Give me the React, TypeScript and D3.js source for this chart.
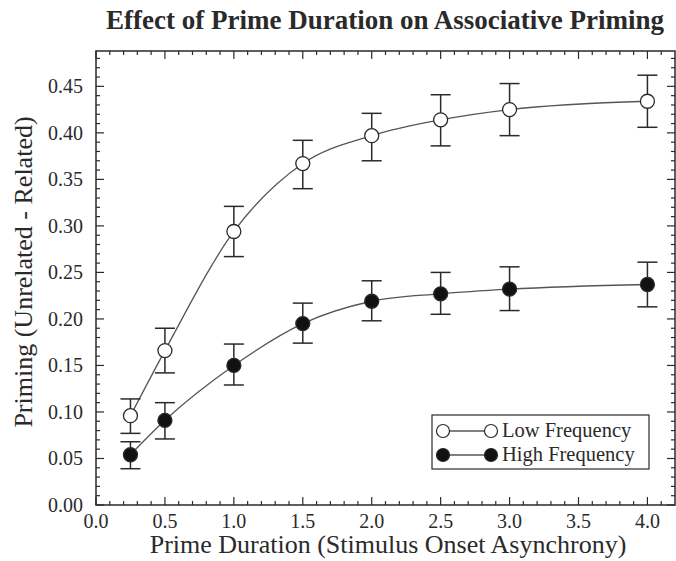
import { useEffect, useRef } from "react";
import * as d3 from "d3";

const W = 676;
const H = 561;
const M = { top: 51, right: 1, bottom: 56, left: 96 };

const DURATIONS = [0.25, 0.5, 1.0, 1.5, 2.0, 2.5, 3.0, 4.0];

const LOW_MEAN = [0.096, 0.166, 0.294, 0.367, 0.397, 0.414, 0.425, 0.434];
const LOW_HI = [0.114, 0.19, 0.321, 0.392, 0.421, 0.441, 0.453, 0.462];
const LOW_LO = [0.077, 0.142, 0.267, 0.34, 0.37, 0.386, 0.397, 0.406];

const HIGH_MEAN = [0.054, 0.091, 0.15, 0.195, 0.219, 0.227, 0.232, 0.237];
const HIGH_HI = [0.068, 0.11, 0.173, 0.217, 0.241, 0.25, 0.256, 0.261];
const HIGH_LO = [0.039, 0.071, 0.129, 0.174, 0.198, 0.205, 0.209, 0.213];

const X_MAJOR = [0, 0.5, 1, 1.5, 2, 2.5, 3, 3.5, 4];
const Y_MAJOR = [0, 0.05, 0.1, 0.15, 0.2, 0.25, 0.3, 0.35, 0.4, 0.45];

const SERIES = [
  { name: "Low Frequency", mean: LOW_MEAN, hi: LOW_HI, lo: LOW_LO, fill: "#fff" },
  { name: "High Frequency", mean: HIGH_MEAN, hi: HIGH_HI, lo: HIGH_LO, fill: "#111" },
];

const FONT = "'Liberation Serif', 'DejaVu Serif', serif";
const INK = "#2a2a2a";

export default function App() {
  const ref = useRef<SVGSVGElement>(null);

  useEffect(() => {
    document.body.style.margin = "0";
    const svg = d3.select(ref.current);
    svg.selectAll("*").remove();

    const x = d3.scaleLinear().domain([0, 4.2]).range([M.left, W - M.right]);
    const y = d3.scaleLinear().domain([0, 0.488]).range([H - M.bottom, M.top]);
    const [x0, x1] = x.range();
    const [y0, y1] = y.range();

    // title
    svg.append("text")
      .attr("x", 385).attr("y", 29)
      .attr("text-anchor", "middle")
      .attr("font-family", FONT).attr("font-weight", "bold")
      .attr("font-size", 27).attr("fill", INK)
      .text("Effect of Prime Duration on Associative Priming");

    // frame
    svg.append("rect")
      .attr("x", x0).attr("y", y1)
      .attr("width", x1 - x0).attr("height", y0 - y1)
      .attr("fill", "none").attr("stroke", INK).attr("stroke-width", 1.5);

    const ticks = svg.append("g").attr("stroke", INK).attr("stroke-width", 1.2);

    // x ticks (inward, top and bottom)
    d3.range(0, 42).map((i) => i / 10).forEach((v, i) => {
      const len = i % 5 === 0 ? 8 : 4;
      ticks.append("line").attr("x1", x(v)).attr("x2", x(v)).attr("y1", y0).attr("y2", y0 - len);
      ticks.append("line").attr("x1", x(v)).attr("x2", x(v)).attr("y1", y1).attr("y2", y1 + len);
    });

    // y ticks (inward, left and right)
    d3.range(0, 49).map((i) => i / 100).forEach((v, i) => {
      const len = i % 5 === 0 ? 8 : 4;
      ticks.append("line").attr("x1", x0).attr("x2", x0 + len).attr("y1", y(v)).attr("y2", y(v));
      ticks.append("line").attr("x1", x1).attr("x2", x1 - len).attr("y1", y(v)).attr("y2", y(v));
    });

    X_MAJOR.forEach((v) => {
      svg.append("text")
        .attr("x", x(v)).attr("y", y0 + 23)
        .attr("text-anchor", "middle")
        .attr("font-family", FONT).attr("font-size", 20).attr("fill", INK)
        .text(v.toFixed(1));
    });

    Y_MAJOR.forEach((v) => {
      svg.append("text")
        .attr("x", x0 - 13).attr("y", y(v) + 7)
        .attr("text-anchor", "end")
        .attr("font-family", FONT).attr("font-size", 20).attr("fill", INK)
        .text(v.toFixed(2));
    });

    // axis labels
    svg.append("text")
      .attr("x", 388).attr("y", 553)
      .attr("text-anchor", "middle")
      .attr("font-family", FONT).attr("font-size", 26).attr("fill", INK)
      .text("Prime Duration (Stimulus Onset Asynchrony)");

    svg.append("text")
      .attr("transform", `translate(32,272) rotate(-90)`)
      .attr("text-anchor", "middle")
      .attr("font-family", FONT).attr("font-size", 26).attr("fill", INK)
      .text("Priming (Unrelated - Related)");

    const line = d3.line<number>()
      .x((_, i) => x(DURATIONS[i]))
      .y((d) => y(d))
      .curve(d3.curveMonotoneX);

    SERIES.forEach((s) => {
      svg.append("path")
        .attr("d", line(s.mean))
        .attr("fill", "none").attr("stroke", "#555").attr("stroke-width", 1.3);

      const g = svg.append("g").attr("stroke", INK).attr("stroke-width", 1.5);
      DURATIONS.forEach((d, i) => {
        const cx = x(d);
        g.append("line").attr("x1", cx).attr("x2", cx).attr("y1", y(s.lo[i])).attr("y2", y(s.hi[i]));
        g.append("line").attr("x1", cx - 10).attr("x2", cx + 10).attr("y1", y(s.hi[i])).attr("y2", y(s.hi[i]));
        g.append("line").attr("x1", cx - 10).attr("x2", cx + 10).attr("y1", y(s.lo[i])).attr("y2", y(s.lo[i]));
      });
      DURATIONS.forEach((d, i) => {
        svg.append("circle")
          .attr("cx", x(d)).attr("cy", y(s.mean[i])).attr("r", 7)
          .attr("fill", s.fill).attr("stroke", INK).attr("stroke-width", 1.3);
      });
    });

    // legend
    const lg = svg.append("g").attr("transform", "translate(432,415)");
    lg.append("rect")
      .attr("width", 217).attr("height", 54)
      .attr("fill", "#fff").attr("stroke", INK).attr("stroke-width", 1.2);
    SERIES.forEach((s, i) => {
      const cy = 16 + i * 24;
      lg.append("line").attr("x1", 11).attr("x2", 59).attr("y1", cy).attr("y2", cy)
        .attr("stroke", "#555").attr("stroke-width", 1.3);
      [11, 59].forEach((cx) => {
        lg.append("circle").attr("cx", cx).attr("cy", cy).attr("r", 6.5)
          .attr("fill", s.fill).attr("stroke", INK).attr("stroke-width", 1.2);
      });
      lg.append("text")
        .attr("x", 70).attr("y", cy + 6)
        .attr("font-family", FONT).attr("font-size", 20.5).attr("fill", INK)
        .text(s.name);
    });
  }, []);

  return <svg ref={ref} width={W} height={H} style={{ display: "block", background: "#fff" }} />;
}
